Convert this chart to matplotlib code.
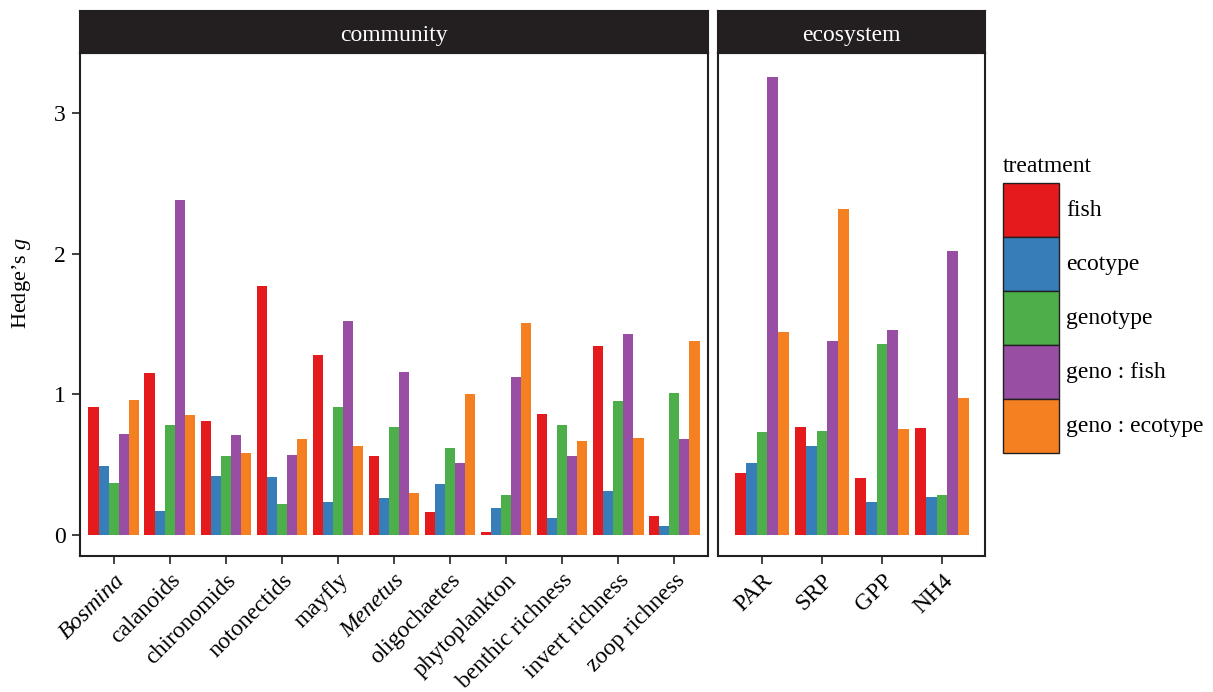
import matplotlib
matplotlib.use("Agg")
import matplotlib.pyplot as plt
from matplotlib.patches import Patch
import numpy as np

plt.rcParams['font.family'] = ['Liberation Serif', 'DejaVu Serif']
plt.rcParams['mathtext.fontset'] = 'custom'
plt.rcParams['mathtext.rm'] = 'Liberation Serif'
plt.rcParams['mathtext.it'] = 'Liberation Serif:italic'

treatments = ["fish", "ecotype", "genotype", "geno : fish", "geno : ecotype"]
colors = ["#E41A1C", "#377EB8", "#4DAF4A", "#984EA3", "#F58021"]

community_cats = ["Bosmina", "calanoids", "chironomids", "notonectids", "mayfly",
                  "Menetus", "oligochaetes", "phytoplankton", "benthic richness",
                  "invert richness", "zoop richness"]
italic_cats = {"Bosmina", "Menetus"}
community_fish = [0.91, 1.15, 0.81, 1.77, 1.28, 0.56, 0.16, 0.02, 0.86, 1.34, 0.13]
community_ecotype = [0.49, 0.17, 0.42, 0.41, 0.23, 0.26, 0.36, 0.19, 0.12, 0.31, 0.06]
community_genotype = [0.37, 0.78, 0.56, 0.22, 0.91, 0.77, 0.62, 0.28, 0.78, 0.95, 1.01]
community_genofish = [0.72, 2.38, 0.71, 0.57, 1.52, 1.16, 0.51, 1.12, 0.56, 1.43, 0.68]
community_genoeco = [0.96, 0.85, 0.58, 0.68, 0.63, 0.30, 1.00, 1.51, 0.67, 0.69, 1.38]

ecosystem_cats = ["PAR", "SRP", "GPP", "NH4"]
ecosystem_fish = [0.44, 0.77, 0.40, 0.76]
ecosystem_ecotype = [0.51, 0.63, 0.23, 0.27]
ecosystem_genotype = [0.73, 0.74, 1.36, 0.28]
ecosystem_genofish = [3.26, 1.38, 1.46, 2.02]
ecosystem_genoeco = [1.44, 2.32, 0.75, 0.97]

W, H = 1213, 692
fig = plt.figure(figsize=(W / 100, H / 100), dpi=100)

def fx(px):
    return px / W

def fy(py):
    return 1 - py / H

ylim = (-0.152, 3.43)
strip_top, strip_bot, panel_bot = 11, 53, 556
edge = "#231F20"
fs = 17

def make_panel(left, right, cats, series, xlim, show_y):
    ax = fig.add_axes([fx(left), fy(panel_bot), fx(right - left), fy(strip_bot) - fy(panel_bot)])
    x = np.arange(len(cats))
    bw = 0.18
    for i, vals in enumerate(series):
        ax.bar(x + (i - 2) * bw, vals, width=bw, color=colors[i], linewidth=0)
    ax.set_xlim(*xlim)
    ax.set_ylim(*ylim)
    ax.set_xticks(x)
    ax.set_xticklabels(cats, rotation=45, ha='right', va='top', rotation_mode='anchor', fontsize=fs)
    for lab in ax.get_xticklabels():
        if lab.get_text() in italic_cats:
            lab.set_fontstyle('italic')
    ax.tick_params(axis='x', length=6, width=1.2, color=edge, pad=4, labelcolor='black')
    if show_y:
        ax.set_yticks([0, 1, 2, 3])
        ax.set_yticklabels(["0", "1", "2", "3"], fontsize=fs)
        ax.tick_params(axis='y', length=6, width=1.2, color=edge, pad=4)
        ax.set_ylabel("Hedge\u2019s $\\mathit{g}$", fontsize=16)
        ax.yaxis.set_label_coords((33 - left) / (right - left),
                                  (panel_bot - 283) / (panel_bot - strip_bot))
    else:
        ax.set_yticks([])
    for s in ax.spines.values():
        s.set_color(edge)
        s.set_linewidth(1.5)
    sax = fig.add_axes([fx(left), fy(strip_bot), fx(right - left), fy(strip_top) - fy(strip_bot)])
    sax.set_facecolor(edge)
    sax.set_xticks([])
    sax.set_yticks([])
    for s in sax.spines.values():
        s.set_color(edge)
        s.set_linewidth(1.5)
    return ax, sax

ax1, s1 = make_panel(80, 708, community_cats,
                     [community_fish, community_ecotype, community_genotype,
                      community_genofish, community_genoeco],
                     (-0.6, len(community_cats) - 0.4), True)
s1.text(0.5, 0.42, "community", color="white", ha="center", va="center", fontsize=fs,
        transform=s1.transAxes)

ax2, s2 = make_panel(718, 985, ecosystem_cats,
                     [ecosystem_fish, ecosystem_ecotype, ecosystem_genotype,
                      ecosystem_genofish, ecosystem_genoeco],
                     (-44 / 60, 3 + 43 / 60), False)
s2.text(0.5, 0.42, "ecosystem", color="white", ha="center", va="center", fontsize=fs,
        transform=s2.transAxes)

# legend key size: patch height = fs*(0.65*h + 0.245) points
key_h_pt = 54 * 72 / 100
key_w_pt = 56 * 72 / 100
hh = (key_h_pt / fs - 0.245) / 0.65
hl = key_w_pt / fs

handles = [Patch(facecolor=c, edgecolor=edge, linewidth=1.0) for c in colors]
leg = fig.legend(handles, treatments, loc='upper left', bbox_to_anchor=(fx(1003), fy(156)),
                 frameon=False, fontsize=fs, title="treatment", title_fontsize=fs,
                 handlelength=hl, handleheight=hh, labelspacing=0,
                 handletextpad=0.3, borderpad=0.0, borderaxespad=0.0, alignment='left')
leg._legend_box.sep = 4

fig.savefig("out.png", dpi=100)
